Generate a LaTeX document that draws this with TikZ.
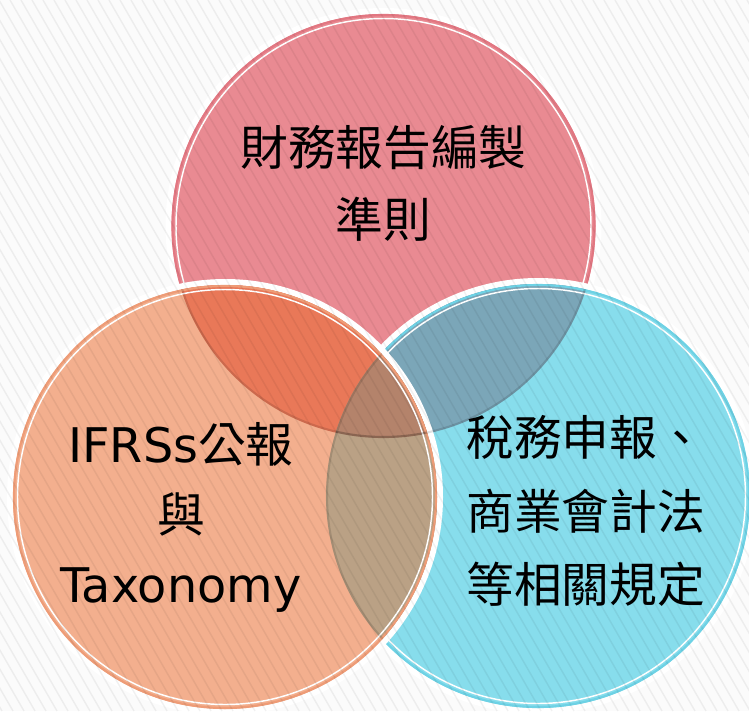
\documentclass[tikz,border=0pt]{standalone}
\usepackage{fontspec}
\newfontfamily\cjk{Noto Sans CJK TC}
\newfontfamily\lat{DejaVu Sans}
\definecolor{bgc}{HTML}{FBFBFB}
\definecolor{pinkc}{HTML}{E98A92}
\definecolor{orangec}{HTML}{F3AF8E}
\definecolor{cyanc}{HTML}{87DDEC}
\definecolor{poc}{HTML}{E97858}
\definecolor{pcc}{HTML}{7BA6B8}
\definecolor{occ}{HTML}{BAA185}
\definecolor{tric}{HTML}{B4836B}
\definecolor{pinkr}{HTML}{E27782}
\definecolor{oranger}{HTML}{EE9C77}
\definecolor{cyanr}{HTML}{6ED2E5}
\tikzset{
  band/.style={white,line width=4.5pt},
  ringline/.style={line width=1.6pt},
  innerwhite/.style={white,line width=1.1pt},
  lbl/.style={inner sep=0pt,anchor=base,text=black,font=\fontsize{35.8}{42}\selectfont},
}
\begin{document}
\begin{tikzpicture}[x=0.75pt,y=-0.75pt]
\useasboundingbox (0,0) rectangle (749,711);
\fill[bgc] (0,0) rectangle (749,711);
\coordinate (ct) at (383.5,226);
\coordinate (cl) at (225,497);
\coordinate (cr) at (538,496);
% pink
\draw[band] (ct) circle[radius=215];
\fill[pinkc] (ct) circle[radius=212];
\draw[ringline,pinkr] (ct) circle[radius=211];
\draw[innerwhite] (ct) circle[radius=207.5];
% cyan
\draw[band] (cr) circle[radius=215];
\fill[cyanc] (cr) circle[radius=212];
\begin{scope}
  \clip (ct) circle[radius=212];
  \fill[pcc] (cr) circle[radius=212];
\end{scope}
\draw[ringline,cyanr] (cr) circle[radius=211];
\draw[innerwhite] (cr) circle[radius=207.5];
% orange
\draw[band] (cl) circle[radius=215];
\fill[orangec] (cl) circle[radius=212];
\begin{scope}
  \clip (cl) circle[radius=212];
  \fill[poc] (ct) circle[radius=212];
  \fill[occ] (cr) circle[radius=212];
  \clip (ct) circle[radius=212];
  \fill[tric] (cr) circle[radius=212];
\end{scope}
\draw[ringline,oranger] (cl) circle[radius=211];
\draw[innerwhite] (cl) circle[radius=207.5];
% faint under-rings
\begin{scope}
  \clip (cl) circle[radius=212];
  \draw[ringline,black,opacity=0.12] (ct) circle[radius=211];
  \draw[ringline,black,opacity=0.12] (cr) circle[radius=211];
\end{scope}
\begin{scope}
  \clip (cr) circle[radius=212];
  \draw[ringline,black,opacity=0.12] (ct) circle[radius=211];
\end{scope}
% stripes
\begin{scope}
  \clip (0,0) rectangle (749,711);
  \foreach \x in {-430,-419,...,760} \draw[black,opacity=0.055,line width=1.1pt] (\x,0) -- ++(410,711);
\end{scope}
% text
\node[lbl] (t1) at (383.5,165) {\cjk 財務報告編製};
\node[lbl] (t2) at (383.5,237) {\cjk 準則};
\node[lbl] (l1) at (181,462) {\lat IFRSs\cjk 公報};
\node[lbl] (l2) at (181,532) {\cjk 與};
\node[lbl] (l3) at (181,602) {\lat Taxonomy};
\node[lbl,anchor=base west] (r1) at (466,455) {\cjk 稅務申報、};
\node[lbl,anchor=base west] (r2) at (466,529) {\cjk 商業會計法};
\node[lbl,anchor=base west] (r3) at (466,602) {\cjk 等相關規定};
\end{tikzpicture}
\end{document}
